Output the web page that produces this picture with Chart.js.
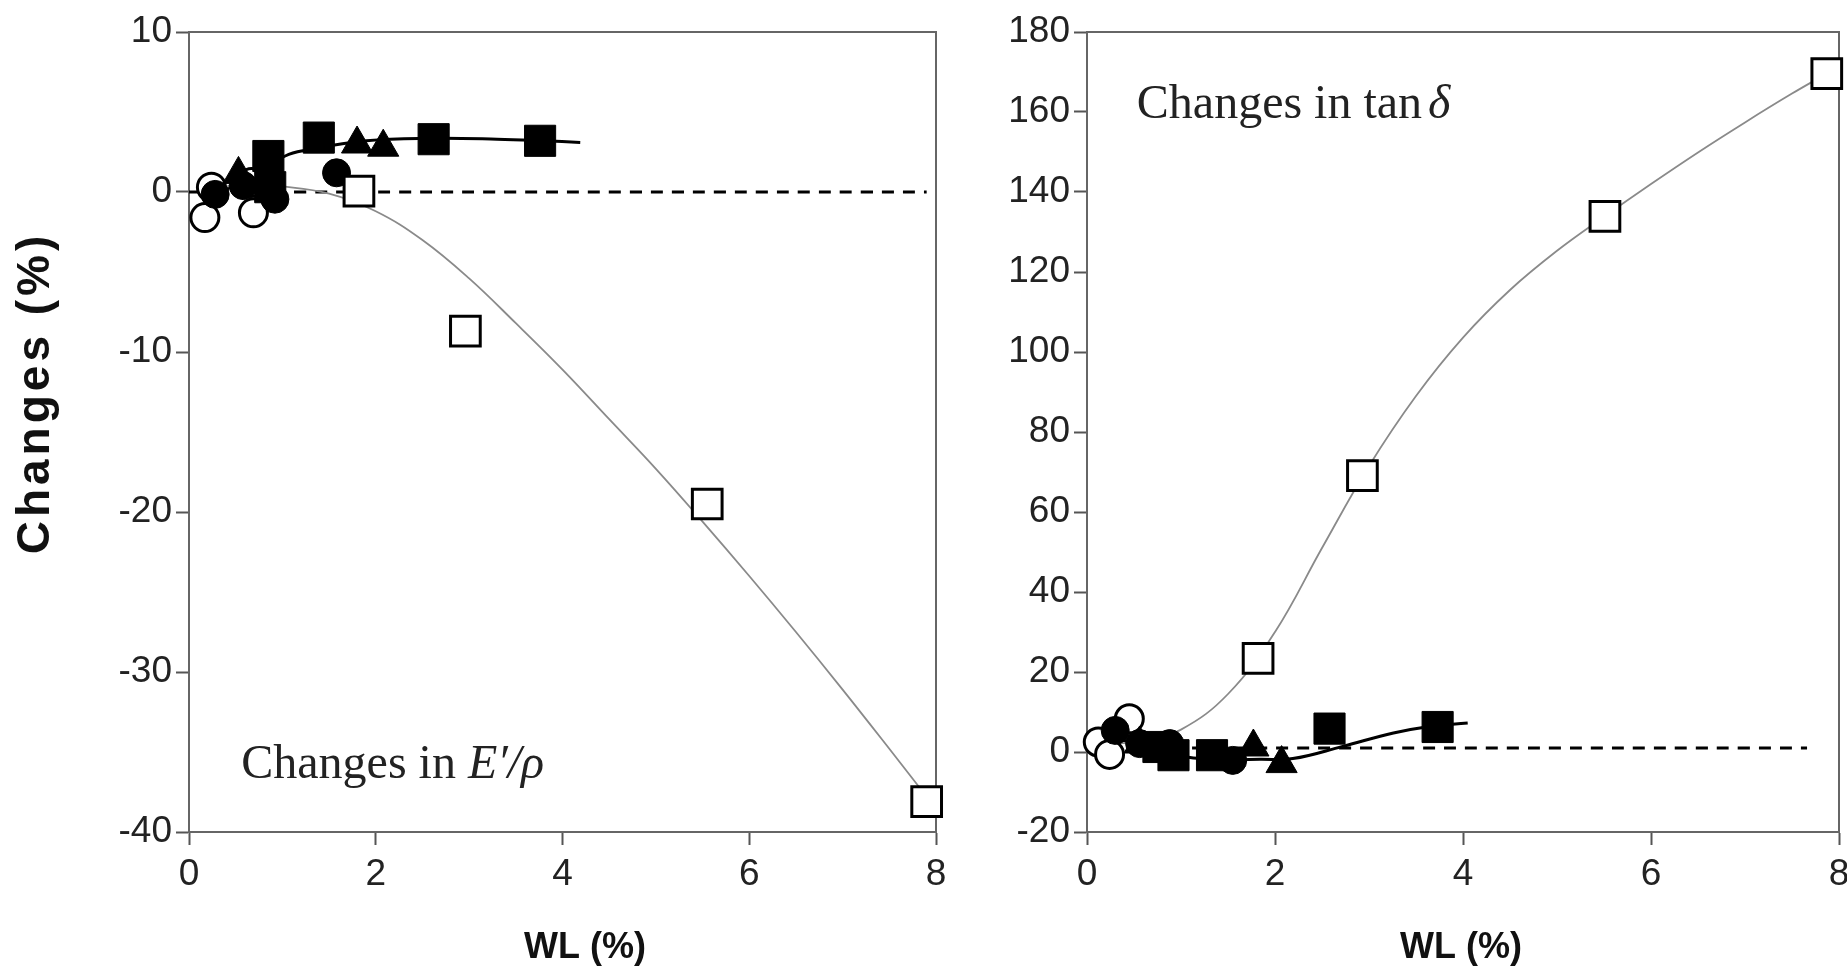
<!DOCTYPE html>
<html lang="en">
<head>
    <meta charset="UTF-8">
    <title>Changes in E'/rho and tan delta vs WL</title>
    <script src="https://cdn.jsdelivr.net/npm/chart.js/dist/chart.umd.min.js"></script>
    <style>
        body {
            margin: 0;
            background: #fff;
            overflow: hidden;
            width: 1847px;
            height: 979px;
            position: relative;
        }
        canvas {
            position: absolute;
            top: 0;
        }
        #leftChart { left: 0; }
        #rightChart { left: 960px; }
    </style>
</head>
<body>
    <canvas id="leftChart" width="960" height="979"></canvas>
    <canvas id="rightChart" width="903" height="979"></canvas>

<script>
// ---- data ----
// left panel: changes in E'/rho (%)
const eOpenSqX = [1.82, 2.96, 5.55, 7.9];
const eOpenSqY = [0.05, -8.7, -19.5, -38.1];
const eOpenCircX = [0.17, 0.24, 0.67, 0.69];
const eOpenCircY = [-1.6, 0.3, 0.6, -1.3];
const eFullCircX = [0.28, 0.58, 0.92, 1.58];
const eFullCircY = [-0.15, 0.4, -0.45, 1.2];
const eTriX = [0.53, 1.80, 2.08];
const eTriY = [1.1, 3.0, 2.8];
const eFullSqX = [0.85, 0.87, 1.39, 2.62, 3.76];
const eFullSqY = [2.25, 0.3, 3.4, 3.3, 3.2];
// fitted curves
const eGrayFitX = [0.2, 0.6, 1.0, 1.5, 2.0, 2.5, 3.0, 3.5, 4.0, 4.5, 5.0, 5.5, 6.0, 6.5, 7.0, 7.5, 7.9];
const eGrayFitY = [0.1, 0.5, 0.35, -0.1, -1.2, -3.0, -5.4, -8.2, -11.1, -14.2, -17.3, -20.6, -24.0, -27.5, -31.1, -34.8, -37.8];
const eBlackFitX = [0.25, 0.6, 1.03, 1.24, 1.9, 2.6, 3.3, 3.8, 4.19];
const eBlackFitY = [-0.3, 0.8, 2.25, 2.6, 3.2, 3.35, 3.3, 3.2, 3.1];
const eRefX = [0, 7.9];
const eRefY = [0, 0];

// right panel: changes in tan delta (%)
const tOpenSqX = [1.82, 2.93, 5.51, 7.87];
const tOpenSqY = [23.4, 69.1, 133.9, 169.6];
const tOpenCircX = [0.12, 0.45, 0.24];
const tOpenCircY = [2.5, 8.3, -0.6];
const tFullCircX = [0.30, 0.56, 0.88, 1.55];
const tFullCircY = [5.4, 2.1, 2.1, -2.1];
const tTriX = [0.56, 1.77, 2.07];
const tTriY = [2.0, 1.25, -2.9];
const tFullSqX = [0.76, 0.92, 1.33, 2.58, 3.73];
const tFullSqY = [1.25, -0.8, -0.8, 5.85, 6.25];
const tGrayFitX = [0.25, 0.6, 1.0, 1.5, 2.0, 2.5, 3.0, 3.5, 4.0, 4.5, 5.0, 5.5, 6.0, 6.5, 7.0, 7.5, 7.87];
const tGrayFitY = [2, 2.8, 5.6, 14.5, 30, 51, 71.5, 89, 103.6, 115.5, 125.3, 133.8, 142.0, 149.9, 157.4, 164.6, 169.6];
const tBlackFitX = [0.3, 0.6, 1.06, 1.5, 1.84, 2.19, 2.72, 3.26, 3.61, 4.05];
const tBlackFitY = [3.5, 1.5, -1.25, -1.9, -1.8, -1.65, 1.4, 4.75, 6.25, 7.25];
const tRefX = [0, 7.66];
const tRefY = [1, 1];

const xTicks = [0, 2, 4, 6, 8];

// ---- helpers ----
const sans = "'Liberation Sans', Arial, sans-serif";
const serif = "'Liberation Serif', 'Times New Roman', serif";

function pts(xs, ys) {
    return xs.map((v, i) => ({ x: v, y: ys[i] }));
}

function marks(xs, ys, style, filled, r, order) {
    return {
        data: pts(xs, ys),
        showLine: false,
        pointStyle: style,
        pointRadius: r,
        pointHoverRadius: r,
        pointBackgroundColor: filled ? '#000' : '#fff',
        pointBorderColor: '#000',
        pointBorderWidth: filled ? 1 : 3,
        clip: false,
        order: order
    };
}

function curve(xs, ys, color, w, dash) {
    return {
        data: pts(xs, ys),
        showLine: true,
        borderColor: color,
        borderWidth: w,
        borderDash: dash || [],
        pointRadius: 0,
        pointHoverRadius: 0,
        tension: 0.4,
        fill: false,
        clip: false,
        order: 9
    };
}

// box on top and right of the plot area
const framePlugin = {
    id: 'frame',
    beforeDatasetsDraw(chart) {
        const { ctx, chartArea: { left, top, right, bottom } } = chart;
        ctx.save();
        ctx.strokeStyle = '#666';
        ctx.lineWidth = 2;
        ctx.beginPath();
        ctx.moveTo(left, top);
        ctx.lineTo(right, top);
        ctx.lineTo(right, bottom);
        ctx.stroke();
        ctx.restore();
    }
};

// "Changes in ..." label, plain part + italic symbol
const notePlugin = {
    id: 'note',
    afterDatasetsDraw(chart, args, opts) {
        const { ctx, scales: { x, y } } = chart;
        const px = x.getPixelForValue(opts.x);
        const py = y.getPixelForValue(opts.y);
        ctx.save();
        ctx.fillStyle = '#222';
        ctx.textBaseline = 'alphabetic';
        ctx.textAlign = 'left';
        ctx.font = '48px ' + serif;
        ctx.fillText(opts.plain, px, py);
        const w = ctx.measureText(opts.plain).width;
        ctx.font = 'italic 48px ' + serif;
        ctx.fillText(opts.italic, px + w + opts.gap, py);
        ctx.restore();
    }
};

// axis titles, placed where the original figure has them
const titlePlugin = {
    id: 'titles',
    afterDraw(chart, args, opts) {
        const { ctx } = chart;
        ctx.save();
        ctx.fillStyle = '#111';
        ctx.textAlign = 'center';
        ctx.textBaseline = 'middle';
        ctx.font = 'bold 36px ' + sans;
        ctx.fillText('WL (%)', opts.xTitleX, 948);
        if (opts.yTitle) {
            ctx.translate(36, 393);
            ctx.rotate(-Math.PI / 2);
            ctx.letterSpacing = '4px';
            ctx.font = 'bold 46px ' + sans;
            ctx.fillText('Changes (%)', 0, 0);
        }
        ctx.restore();
    }
};

function axes(yMin, yMax, yStep, yWidth) {
    const tickFont = { family: sans, size: 37 };
    const grid = { drawOnChartArea: false, tickLength: 13, tickColor: '#555', tickWidth: 2 };
    const border = { display: true, color: '#666', width: 2 };
    return {
        x: {
            type: 'linear',
            min: 0,
            max: 8,
            afterBuildTicks: s => { s.ticks = xTicks.map(v => ({ value: v })); },
            afterFit: s => { s.height = 147; },
            ticks: { font: tickFont, color: '#222', padding: 8, maxRotation: 0 },
            grid: grid,
            border: border
        },
        y: {
            type: 'linear',
            min: yMin,
            max: yMax,
            afterFit: s => { s.width = yWidth; },
            ticks: { stepSize: yStep, font: tickFont, color: '#222', padding: 4 },
            grid: grid,
            border: border
        }
    };
}

function build(id, datasets, scales, note, titles) {
    return new Chart(document.getElementById(id), {
        type: 'scatter',
        data: { datasets },
        options: {
            responsive: false,
            animation: false,
            layout: { padding: { left: 0, right: 23, top: 32, bottom: 0 } },
            plugins: {
                legend: { display: false },
                tooltip: { enabled: false },
                note: note,
                titles: titles
            },
            scales: scales
        },
        plugins: [framePlugin, notePlugin, titlePlugin]
    });
}

// left panel
build('leftChart', [
    marks(eOpenSqX, eOpenSqY, 'rect', false, 21, 0),
    marks(eFullSqX, eFullSqY, 'rect', true, 22, 1),
    marks(eTriX, eTriY, 'triangle', true, 18, 1),
    marks(eFullCircX, eFullCircY, 'circle', true, 14, 1),
    marks(eOpenCircX, eOpenCircY, 'circle', false, 14, 2),
    curve(eGrayFitX, eGrayFitY, '#8a8a8a', 1.8),
    curve(eBlackFitX, eBlackFitY, '#000', 3),
    curve(eRefX, eRefY, '#000', 3, [12, 9])
], axes(-40, 10, 10, 189),
   { x: 0.56, y: -36.6, plain: 'Changes in ', italic: 'E\u2032/\u03C1', gap: 0 },
   { xTitleX: 585, yTitle: true });

// right panel
build('rightChart', [
    marks(tOpenSqX, tOpenSqY, 'rect', false, 21, 0),
    marks(tFullSqX, tFullSqY, 'rect', true, 22, 1),
    marks(tTriX, tTriY, 'triangle', true, 18, 1),
    marks(tFullCircX, tFullCircY, 'circle', true, 14, 1),
    marks(tOpenCircX, tOpenCircY, 'circle', false, 14, 2),
    curve(tGrayFitX, tGrayFitY, '#8a8a8a', 1.8),
    curve(tBlackFitX, tBlackFitY, '#000', 3),
    curve(tRefX, tRefY, '#000', 3, [12, 9])
], axes(-20, 180, 20, 127),
   { x: 0.53, y: 158.4, plain: 'Changes in tan', italic: '\u03B4', gap: 6 },
   { xTitleX: 501, yTitle: false });
</script>
</body>
</html>
